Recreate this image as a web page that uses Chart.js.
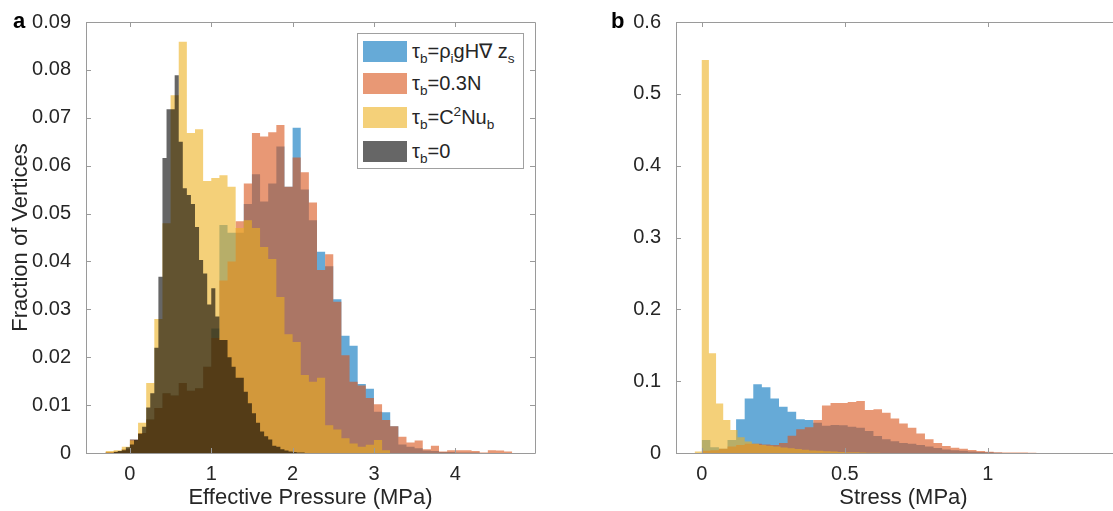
<!DOCTYPE html>
<html>
<head>
<meta charset="utf-8">
<script src="https://cdn.jsdelivr.net/npm/chart.js@4.4.1/dist/chart.umd.min.js"></script>
<style>
html, body { margin: 0; padding: 0; background: #fff; overflow: hidden; }
#page { position: relative; width: 1113px; height: 511px; overflow: hidden; font-family: "Liberation Sans", Arial, sans-serif; color: #262626; }
#chartA { position: absolute; left: 0; top: 0; }
#chartB { position: absolute; left: 560px; top: 0; }
.tag { position: absolute; font-weight: bold; font-size: 22px; line-height: 26px; color: #000; }
#legend { position: absolute; left: 357px; top: 33px; width: 167px; height: 136px; border: 1px solid #a0a0a0; background: #fff; box-sizing: border-box; }
.row { position: absolute; left: 5px; height: 22px; display: flex; align-items: center; font-size: 20px; white-space: nowrap; }
.sw { width: 44px; height: 21px; margin-right: 5px; flex: none; }
sub, sup { font-size: 68%; line-height: 0; }
</style>
</head>
<body>
<div id="page">
  <canvas id="chartA" width="560" height="511"></canvas>
  <canvas id="chartB" width="600" height="511"></canvas>
  <div class="tag" style="left:13px; top:8px;">a</div>
  <div class="tag" style="left:611px; top:8px;">b</div>
  <div id="legend">
    <div class="row" style="top:6px;"><div class="sw" style="background:rgba(0,114,189,0.6)"></div><span>&tau;<sub>b</sub>=&rho;<sub>i</sub>gH&nabla; z<sub>s</sub></span></div>
    <div class="row" style="top:38px;"><div class="sw" style="background:rgba(217,83,25,0.6)"></div><span>&tau;<sub>b</sub>=0.3N</span></div>
    <div class="row" style="top:72px;"><div class="sw" style="background:rgba(237,177,32,0.6)"></div><span>&tau;<sub>b</sub>=C<sup>2</sup>Nu<sub>b</sub></span></div>
    <div class="row" style="top:106px;"><div class="sw" style="background:rgba(0,0,0,0.6)"></div><span>&tau;<sub>b</sub>=0</span></div>
  </div>
</div>
<script>
// ---- panel a: effective pressure histograms (fraction of vertices per bin)
const pressureTicksX = [0, 1, 2, 3, 4];
const pressureTicksY = [0, 0.01, 0.02, 0.03, 0.04, 0.05, 0.06, 0.07, 0.08, 0.09];

// bins of 0.1 MPa starting at -0.3
const pressureBlue = [0.0002, 0.0003, 0.0008, 0.0028, 0.0042, 0.007, 0.0094, 0.0125, 0.012, 0.0146,
  0.013, 0.0135, 0.018, 0.026, 0.0476, 0.046, 0.046, 0.052, 0.0582, 0.0525,
  0.0563, 0.064, 0.0556, 0.0679, 0.055, 0.0486, 0.042, 0.039, 0.0321, 0.0245,
  0.0224, 0.0144, 0.0134, 0.0086, 0.0085, 0.0056, 0.0018, 0.0013, 0.001, 0.0005,
  0.0004, 0.0002, 0.0002, 0.0001, 0.0001, 0.0001, 0, 0, 0, 0];
const pressureOrange = [0.0002, 0.0003, 0.0008, 0.0028, 0.0042, 0.007, 0.0094, 0.0125, 0.012, 0.0146,
  0.013, 0.0135, 0.018, 0.024, 0.036, 0.040, 0.0484, 0.0563, 0.0668, 0.0661,
  0.067, 0.0685, 0.0556, 0.0617, 0.0586, 0.0523, 0.0382, 0.0415, 0.0316, 0.0204,
  0.0149, 0.0141, 0.0115, 0.0102, 0.0069, 0.0056, 0.0034, 0.0022, 0.0026, 0.0008,
  0.0015, 0.0003, 0.0006, 0.0006, 0.0006, 0.0004, 0.0001, 0.0006, 0.0005, 0.0003];
const pressureYellow = [0.0004, 0.0006, 0.0013, 0.0026, 0.0063, 0.0146, 0.028, 0.048, 0.0747, 0.0859,
  0.0668, 0.0676, 0.0568, 0.0574, 0.058, 0.0556, 0.047, 0.0486, 0.047, 0.043,
  0.0405, 0.0326, 0.0248, 0.0232, 0.0163, 0.0149, 0.0157, 0.0058, 0.0049, 0.0031,
  0.002, 0.0013, 0.0017, 0.0027, 0.0006];
// bins of 0.05 MPa starting at -0.2
const pressureBlack = [0.0002, 0.0004, 0.0006, 0.0012, 0.0018, 0.0027, 0.004, 0.0055, 0.0095, 0.0125,
  0.022, 0.0368, 0.0616, 0.0718, 0.0718, 0.0789, 0.065, 0.0553, 0.0539, 0.052,
  0.0472, 0.0403, 0.0375, 0.031, 0.0344, 0.0285, 0.0236, 0.0236, 0.02, 0.018,
  0.0157, 0.0157, 0.0128, 0.0104, 0.0083, 0.0063, 0.0045, 0.0035, 0.0028, 0.0015,
  0.0013, 0.0008, 0.0005, 0.0003, 0.0002, 0.0001, 0.0001];

// ---- panel b: basal stress histograms
const stressTicksX = [0, 0.5, 1];
const stressTicksY = [0, 0.1, 0.2, 0.3, 0.4, 0.5, 0.6];

// bins of 0.03 MPa starting at 0
const stressBlue = [0.018, 0.008, 0.006, 0.018, 0.047, 0.076, 0.0957, 0.0915, 0.076, 0.0645,
  0.0575, 0.047, 0.046, 0.042, 0.038, 0.039, 0.0385, 0.0365, 0.035, 0.0305,
  0.0235, 0.019, 0.0165, 0.014, 0.013, 0.011, 0.009, 0.007, 0.005, 0.004,
  0.003, 0.002, 0.0015, 0.001, 0.0005];
const stressOrange = [0.003, 0.004, 0.006, 0.009, 0.011, 0.013, 0.013, 0.012, 0.011, 0.014,
  0.024, 0.033, 0.036, 0.046, 0.066, 0.0696, 0.0696, 0.071, 0.0724, 0.06,
  0.0608, 0.056, 0.048, 0.041, 0.035, 0.027, 0.019, 0.014, 0.0097, 0.0074,
  0.006, 0.0042, 0.0028, 0.0018, 0.0012, 0.0008, 0.0008, 0.0008, 0.0003];
// bins of 0.025 MPa starting at -0.025
const stressYellow = [0.002, 0.547, 0.139, 0.069, 0.046, 0.032, 0.022, 0.016, 0.013, 0.011,
  0.01, 0.009, 0.0075, 0.0065, 0.0055, 0.0045, 0.0035, 0.003, 0.0025, 0.002,
  0.0015, 0.0012, 0.001, 0.0008, 0.0005, 0.0003];

const FONT = '"Liberation Sans", Arial, sans-serif';
const TEXT = '#262626';
const AXIS = '#9a9a9a';
const BLUE = 'rgba(0, 114, 189, 0.6)';
const ORANGE = 'rgba(217, 83, 25, 0.6)';
const YELLOW = 'rgba(237, 177, 32, 0.6)';
const BLACK = 'rgba(0, 0, 0, 0.6)';

// histogram outline as a stepped line: each point holds the height of the bin to its right
function histPoints(start, width, heights) {
    var pts = [{x: start, y: 0}];
    heights.forEach(function (h, i) { pts.push({x: start + i * width, y: h}); });
    pts.push({x: start + heights.length * width, y: 0});
    return pts;
}

function hist(label, start, width, heights, color, order) {
    return {
        label: label,
        data: histPoints(start, width, heights),
        stepped: true,
        fill: 'origin',
        backgroundColor: color,
        borderColor: 'rgba(0,0,0,0)',
        borderWidth: 0,
        pointRadius: 0,
        order: order
    };
}

// box round the plot with inward ticks, like the original axes
const frame = {
    id: 'frame',
    afterDatasetsDraw(chart) {
        const {ctx, chartArea: a, scales: {x, y}} = chart;
        ctx.save();
        ctx.strokeStyle = AXIS;
        ctx.lineWidth = 1;
        ctx.beginPath();
        ctx.rect(a.left + 0.5, a.top + 0.5, a.right - a.left, a.bottom - a.top);
        x.ticks.forEach(function (t) {
            const px = Math.round(x.getPixelForValue(t.value)) + 0.5;
            ctx.moveTo(px, a.bottom); ctx.lineTo(px, a.bottom - 5);
            ctx.moveTo(px, a.top); ctx.lineTo(px, a.top + 5);
        });
        y.ticks.forEach(function (t) {
            const py = Math.round(y.getPixelForValue(t.value)) + 0.5;
            ctx.moveTo(a.left, py); ctx.lineTo(a.left + 5, py);
            ctx.moveTo(a.right, py); ctx.lineTo(a.right - 5, py);
        });
        ctx.stroke();
        ctx.restore();
    }
};

function axes(o) {
    return {
        x: {
            type: 'linear', min: o.xmin, max: o.xmax,
            afterBuildTicks: function (s) { s.ticks = o.xticks.map(function (v) { return {value: v}; }); },
            afterFit: function (s) { s.height = 58; },
            grid: {display: false}, border: {display: false},
            ticks: {font: {size: 20, family: FONT}, color: TEXT, padding: 1, maxRotation: 0, autoSkip: false,
                    callback: function (v) { return String(v); }},
            title: {display: true, text: o.xtitle, font: {size: 22, family: FONT}, color: TEXT, padding: {top: 0, bottom: 0}}
        },
        y: {
            type: 'linear', min: 0, max: o.ymax,
            afterBuildTicks: function (s) { s.ticks = o.yticks.map(function (v) { return {value: v}; }); },
            afterFit: function (s) { s.width = o.ywidth; },
            grid: {display: false}, border: {display: false},
            ticks: {font: {size: 20, family: FONT}, color: TEXT, padding: 7, autoSkip: false,
                    callback: function (v) { return String(v); }},
            title: {display: !!o.ytitle, text: o.ytitle || '', font: {size: 22, family: FONT}, color: TEXT, padding: {top: 4, bottom: 4}}
        }
    };
}

const common = {
    responsive: false,
    animation: false,
    events: [],
    plugins: {legend: {display: false}, tooltip: {enabled: false}}
};

new Chart(document.getElementById('chartA').getContext('2d'), {
    type: 'line',
    data: {
        datasets: [
            hist('\u03c4b=\u03c1i gH\u2207 zs', -0.3, 0.1, pressureBlue, BLUE, 4),
            hist('\u03c4b=0.3N', -0.3, 0.1, pressureOrange, ORANGE, 3),
            hist('\u03c4b=C2Nub', -0.3, 0.1, pressureYellow, YELLOW, 2),
            hist('\u03c4b=0', -0.2, 0.05, pressureBlack, BLACK, 1)
        ]
    },
    options: Object.assign({}, common, {
        layout: {padding: {left: 4, top: 22, right: 25, bottom: 0}},
        scales: axes({xmin: -0.54, xmax: 4.98, xticks: pressureTicksX, xtitle: 'Effective Pressure (MPa)',
                      ymax: 0.09, yticks: pressureTicksY, ywidth: 82, ytitle: 'Fraction of Vertices'})
    }),
    plugins: [frame]
});

new Chart(document.getElementById('chartB').getContext('2d'), {
    type: 'line',
    data: {
        datasets: [
            hist('\u03c4b=\u03c1i gH\u2207 zs', 0, 0.03, stressBlue, BLUE, 4),
            hist('\u03c4b=0.3N', 0, 0.03, stressOrange, ORANGE, 3),
            hist('\u03c4b=C2Nub', -0.025, 0.025, stressYellow, YELLOW, 2)
        ]
    },
    options: Object.assign({}, common, {
        layout: {padding: {left: 0, top: 22, right: 29, bottom: 0}},
        scales: axes({xmin: -0.09, xmax: 1.5, xticks: stressTicksX, xtitle: 'Stress (MPa)',
                      ymax: 0.6, yticks: stressTicksY, ywidth: 116})
    }),
    plugins: [frame]
});
</script>
</body>
</html>
